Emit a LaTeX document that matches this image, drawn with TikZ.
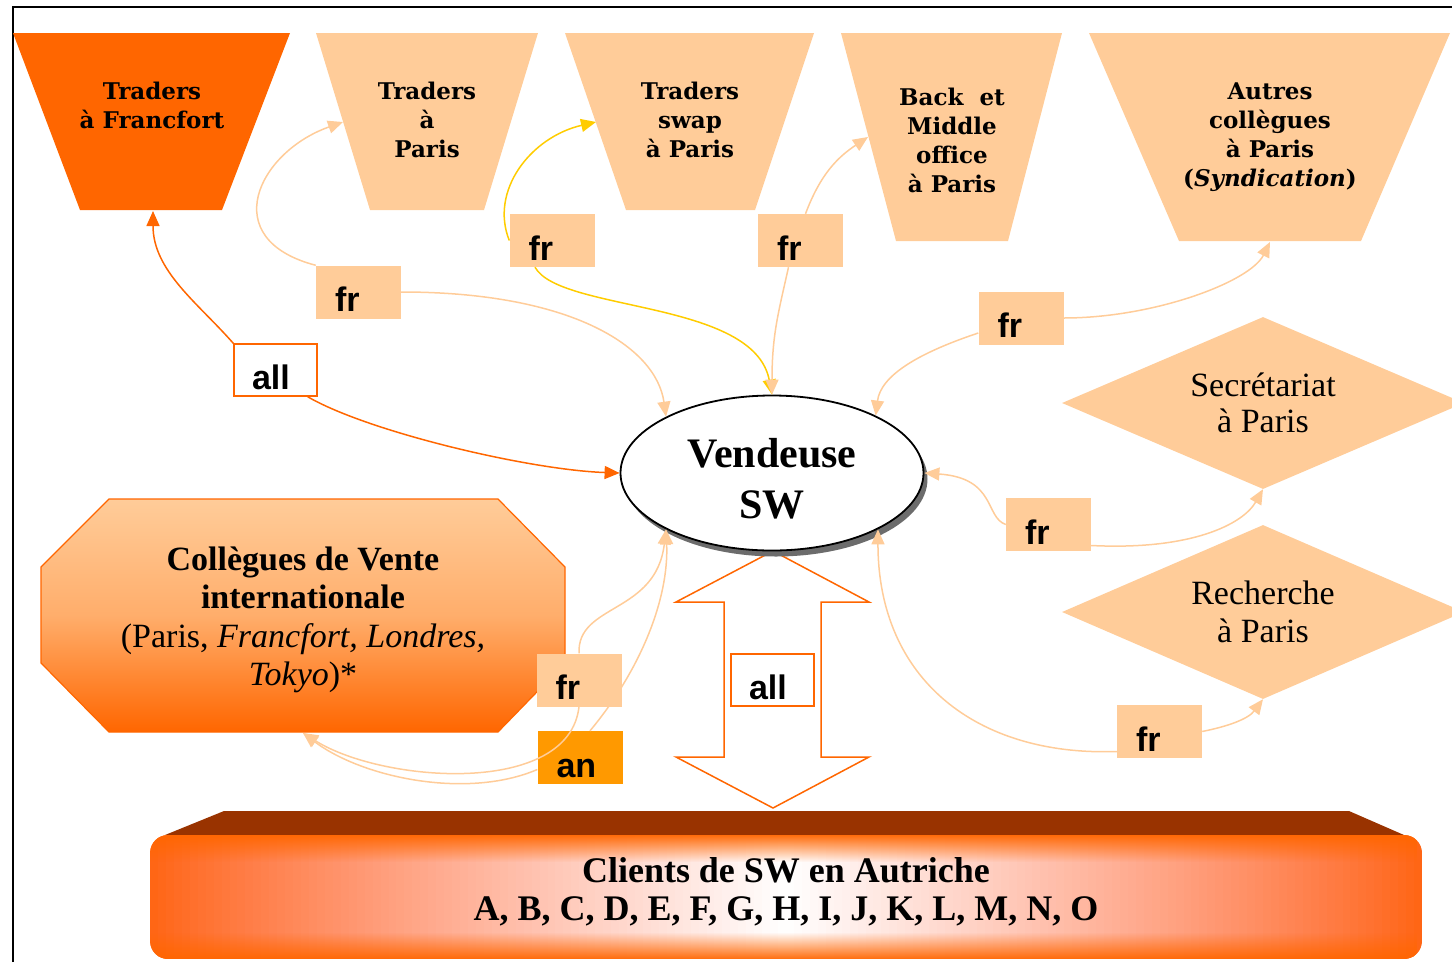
\documentclass[tikz,border=0pt]{standalone}
\usepackage{fontspec}
\setmainfont{Liberation Serif}
\setsansfont{Liberation Sans}
\newfontfamily\trapserif{DejaVu Serif}
\usetikzlibrary{shapes.geometric,arrows.meta,shadows,fadings}

\definecolor{peach}{HTML}{FFCC99}
\definecolor{dorange}{HTML}{FF6600}
\definecolor{amber}{HTML}{FF9900}
\definecolor{rust}{HTML}{993300}
\definecolor{gold}{HTML}{FFCC00}
\definecolor{stripc}{HTML}{FF6600}

\tikzfading[name=fadedown, top color=transparent!5, bottom color=transparent!100]
\tikzfading[name=fadeup, top color=transparent!100, bottom color=transparent!5]

\tikzset{
  trapfont/.style={font=\fontsize{23}{29}\selectfont\trapserif\bfseries, align=center},
  tagbox/.style={fill=peach, minimum width=85pt, minimum height=53pt,
    text width=47pt, align=left, text height=39pt, text depth=0pt,
    font=\fontsize{34}{40}\selectfont\sffamily\bfseries},
  allbox/.style={tagbox, fill=white, draw=dorange, line width=1.5pt},
  anbox/.style={tagbox, fill=amber},
  tip/.style={-{Triangle[length=15pt,width=13pt]}},
  peachline/.style={draw=peach, line width=1.5pt, tip},
  goldline/.style={draw=gold, line width=1.5pt, tip},
  orangeline/.style={draw=dorange, line width=1.5pt, tip},
}

\begin{document}
\begin{tikzpicture}[x=1pt,y=-1pt, every node/.style={inner sep=0pt}]
\useasboundingbox (0,0) rectangle (1452,962);
\draw[line width=2pt] (13,962) -- (13,7) -- (1452,7);

% traders and back office
\fill[dorange] (13,33) -- (290,33) -- (222,210) -- (80,210) -- cycle;
\node[trapfont] (francfort) at (152,105) {Traders\\à Francfort};
\fill[peach] (316,33) -- (538,33) -- (484,210) -- (370,210) -- cycle;
\node[trapfont] (tparis) at (427,119.5) {Traders\\à\\Paris};
\fill[peach] (565,33) -- (814,33) -- (755,210) -- (626,210) -- cycle;
\node[trapfont] (tswap) at (690,119.5) {Traders\\swap\\à Paris};
\fill[peach] (841,33) -- (1062,33) -- (1008,241) -- (896,241) -- cycle;
\node[trapfont] (backoff) at (952,140) {Back\ \ et\\Middle\\office\\à Paris};
\fill[peach] (1089,33) -- (1450,33) -- (1361,241) -- (1179,241) -- cycle;
\node[trapfont] (autres) at (1270,137) {Autres\\collègues\\à Paris\\(\textit{Syndication})};
\coordinate (francin) at (153,211);
\coordinate (parisin) at (343,122);
\coordinate (swapin) at (596,122);
\coordinate (backin) at (868,137);
\coordinate (autresin) at (1270,242);

\node[diamond, fill=peach, aspect=2.34, minimum width=402pt, minimum height=172pt,
  font=\fontsize{34}{36}\selectfont, align=center] (secr) at (1263,403) {Secrétariat\\à Paris};
\node[diamond, fill=peach, aspect=2.34, minimum width=402pt, minimum height=174pt,
  font=\fontsize{34}{38}\selectfont, align=center] (rech) at (1263,612) {Recherche\\à Paris};

% collegues de vente
\shadedraw[top color=peach, bottom color=dorange, middle color=peach!70!dorange,
  draw=dorange, line width=1.2pt] (109,499) -- (498,499) -- (565,567) -- (565,663)
  -- (498,732) -- (109,732) -- (41,663) -- (41,567) -- cycle;
\node[font=\fontsize{34}{38.5}\selectfont, align=center] (coll) at (303,620)
  {\textbf{Collègues de Vente}\\\textbf{internationale}\\(Paris, \textit{Francfort, Londres,}\\\textit{Tokyo})*};
\coordinate (collin) at (303,733);

% clients
\fill[rust] (224,811) -- (1349,811) -- (1404,835) -- (165,835) -- cycle;
\begin{scope}
  \clip[rounded corners=18pt] (150,835) rectangle (1422,959);
  \foreach \i in {0,...,79} {
    \pgfmathsetmacro\s{(\i+0.5)/80}
    \pgfmathtruncatemacro\gg{102+153*\s}
    \pgfmathtruncatemacro\bb{17+238*\s^0.8}
    \definecolor{stripc}{RGB}{255,\gg,\bb}
    \fill[stripc] (150+7.95*\i,835) rectangle +(8.6,124);
    \fill[stripc] (1422-7.95*\i,835) rectangle +(-8.6,124);
  }
  \fill[dorange, path fading=fadedown] (150,835) rectangle (1422,862);
  \fill[dorange, path fading=fadeup] (150,932) rectangle (1422,959);
\end{scope}
\node[minimum width=1272pt, minimum height=124pt,
  label={[yshift=5pt, font=\fontsize{36}{38}\selectfont\bfseries,
  align=center]center:{Clients de SW en Autriche\\A, B, C, D, E, F, G, H, I, J, K, L, M, N, O}}]
  (clients) at (786,897) {};

% big arrow
\draw[dorange, line width=1.5pt, fill=white] (773,551) -- (869,602) -- (821,602) -- (821,757)
  -- (869,757) -- (773,808) -- (676,757) -- (724,757) -- (724,602) -- (676,602) -- cycle;
\node[allbox, minimum width=83pt, minimum height=52pt] (allmid) at (772.5,680) {all};

\node[ellipse, draw, line width=1.8pt, fill=white, minimum width=303pt, minimum height=155pt,
  drop shadow={fill=gray!85!black, opacity=1, shadow xshift=4pt, shadow yshift=-6pt},
  label={[yshift=-5.5pt, font=\fontsize{42}{51}\selectfont\bfseries, align=center]center:{Vendeuse\\SW}}]
  (vend) at (772,473) {};

\node[allbox, minimum width=83pt, minimum height=52pt] (allb) at (275.5,370) {all};
\node[tagbox] (fr1) at (358.5,292) {fr};
\node[tagbox] (fr2) at (552,240.5) {fr};
\node[tagbox] (fr3) at (800.5,240.5) {fr};
\node[tagbox] (fr4) at (1021,318) {fr};
\node[tagbox] (fr5) at (1048.5,524.5) {fr};
\node[tagbox] (fr6) at (1159.5,731.5) {fr};
\node[tagbox] (fr7) at (579,680) {fr};
\node[anbox] (an) at (580,757.5) {an};

% connectors
\draw[orangeline] (allb.north west) .. controls +(-35,-40) and +(0,60) .. (francin);
\draw[orangeline] ([xshift=-10pt]allb.south east) .. controls +(60,35) and +(-90,-3) .. (vend.west);
\draw[peachline] (fr1.north west) .. controls +(-100,-26) and +(-85,30) .. (parisin);
\draw[peachline] (fr1.east) .. controls +(170,0) and +(-10,-70) .. (vend.152);
\draw[goldline] (fr2.west) .. controls +(-20,-50) and +(-65,15) .. (swapin);
\draw[goldline] ([xshift=-17pt]fr2.south) .. controls +(25,45) and +(-18,-95) .. (vend.north);
\draw[peachline] ([xshift=5pt]fr3.north) .. controls +(15,-40) and +(-30,20) .. (backin);
\draw[peachline] ([xshift=-12pt]fr3.south) .. controls +(-10,45) and +(0,-60) .. (vend.north);
\draw[peachline] ([yshift=-15pt]fr4.west) .. controls +(-60,20) and +(5,-40) .. (vend.29);
\draw[peachline] (fr4.east) .. controls +(90,0) and +(-20,40) .. (autresin);
\draw[peachline] (fr5.west) .. controls +(-21,-7) and +(72,5) .. (vend.east);
\draw[peachline] ([yshift=-21pt]fr5.east) .. controls +(100,5) and +(-20,35) .. (secr.south);
\draw[peachline] ([yshift=-20pt]fr6.west) .. controls +(-140,5) and +(0,150) .. (vend.-28);
\draw[peachline] (fr6.east) .. controls +(25,-5) and +(-15,20) .. (rech.south);
\draw[peachline] (fr7.north) .. controls +(-2,-50) and +(-10,85) .. (vend.208);
\draw[peachline] (fr7.south) .. controls +(-10,90) and +(80,50) .. (collin);
\draw[peachline] ([xshift=10pt]an.north) .. controls +(50,-60) and +(3,70) .. (vend.208);
\draw[peachline] ([yshift=-12pt]an.west) .. controls +(-70,30) and +(60,45) .. (collin);
\end{tikzpicture}
\end{document}
